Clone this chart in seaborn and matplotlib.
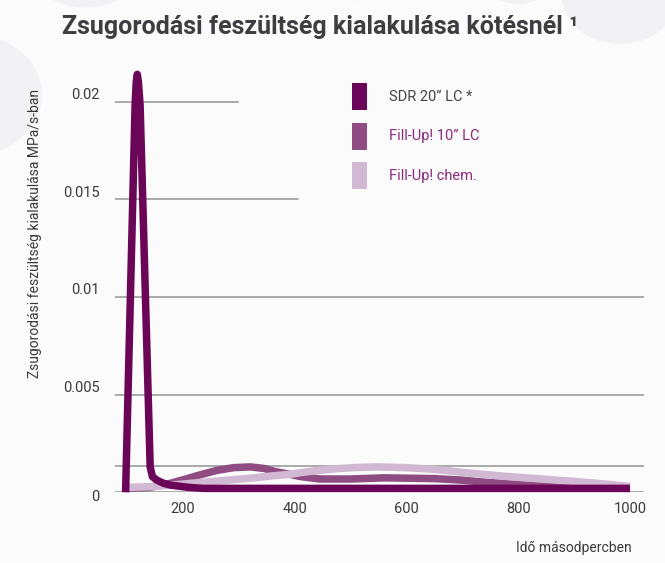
import matplotlib
matplotlib.use("Agg")
import matplotlib.pyplot as plt
from matplotlib.patches import Patch, Circle
from matplotlib.transforms import ScaledTranslation
import seaborn as sns
import pandas as pd

# Adatok (a diagramról leolvasva)
series_names = ["SDR 20\u201d LC *", "Fill-Up! 10\u201d LC", "Fill-Up! chem."]
series_colors = ["#6b0557", "#8e4c83", "#d2b9d3"]
label_colors = ["#444448", "#8a2a7c", "#8a2a7c"]

sdr_x = [97, 114, 116, 118, 120, 123, 141, 145, 153, 165, 177, 207, 236, 300, 1000]
sdr_y = [0, 0.0198, 0.0210, 0.0214, 0.0210, 0.0198, 0.0013, 0.0008, 0.00062, 0.00046,
         0.00037, 0.00026, 0.0002, 0.0002, 0.0002]

fill10_x = [100, 140, 177, 205, 230, 260, 290, 320, 345, 365, 391, 409, 445,
            500, 560, 650, 700, 731, 773, 833, 900, 1000]
fill10_y = [0.0002, 0.00025, 0.00046, 0.00068, 0.00089, 0.00112, 0.00126, 0.0013,
            0.00122, 0.00106, 0.00092, 0.00081, 0.00068, 0.00068, 0.00074, 0.0007,
            0.00062, 0.00054, 0.00045, 0.00033, 0.00024, 0.0002]

chem_x = [102, 150, 200, 230, 280, 320, 360, 391, 409, 445, 470, 510, 547, 600,
          647, 714, 775, 833, 890, 941, 1000]
chem_y = [0.00025, 0.0003, 0.00042, 0.0005, 0.00062, 0.00072, 0.00084, 0.00092,
          0.001, 0.00113, 0.0012, 0.00127, 0.0013, 0.00126, 0.00118, 0.00098,
          0.00082, 0.0007, 0.00058, 0.00046, 0.0003]

x_ticks = [200, 400, 600, 800, 1000]
y_ticks = [0, 0.005, 0.01, 0.015, 0.02]
y_tick_labels = ["0", "0.005", "0.01", "0.015", "0.02"]
ref_line = 0.00135

df = pd.concat([
    pd.DataFrame({"ido": sdr_x, "fesz": sdr_y, "minta": series_names[0]}),
    pd.DataFrame({"ido": fill10_x, "fesz": fill10_y, "minta": series_names[1]}),
    pd.DataFrame({"ido": chem_x, "fesz": chem_y, "minta": series_names[2]}),
], ignore_index=True)

sns.set_theme(style="white")
plt.rcParams["font.family"] = ["Roboto", "DejaVu Sans"]

fig = plt.figure(figsize=(6.65, 5.63), dpi=100, facecolor="#fbfbfc")

# háttér körök (díszítés)
for cx, cy, r in [(-30, 95, 72), (85, -45, 62), (193, -32, 38), (353, -25, 30),
                  (519, -28, 38), (620, -5, 58)]:
    fig.patches.append(Circle((cx / 665, 1 - cy / 563), r / 665,
                              transform=fig.transFigure, facecolor="#f2f2f4",
                              edgecolor="none", zorder=0))

ax = fig.add_axes([0.1729, 0.1256, 0.7955, 0.7701])
ax.set_facecolor("none")

palette = dict(zip(series_names, series_colors))
sns.lineplot(data=df, x="ido", y="fesz", hue="minta",
             hue_order=[series_names[1], series_names[2], series_names[0]],
             palette=palette, estimator=None, sort=False, linewidth=5.4,
             legend=False, ax=ax)
for ln in ax.lines:
    ln.set_solid_joinstyle("round")
    ln.set_solid_capstyle("butt")
    ln.set_clip_on(False)

ax.set_xlim(78, 1025)
ax.set_ylim(0, 0.0222)

# rácsvonalak
grid_ends = {0.02: 0.2325, 0.015: 0.346}
for yv in y_ticks + [ref_line]:
    ax.axhline(yv, xmin=0, xmax=grid_ends.get(yv, 1), color="#a3a3a6", lw=1.3, zorder=0)

for s in ax.spines.values():
    s.set_visible(False)

ax.set_xticks(x_ticks)
ax.set_xticklabels([str(v) for v in x_ticks])
ax.set_yticks(y_ticks)
ax.set_yticklabels(y_tick_labels)
ax.tick_params(axis="both", length=0, labelsize=10.5, labelcolor="#3a3a3d")
ax.tick_params(axis="y", pad=11)
ax.tick_params(axis="x", pad=7)
for lab in ax.get_yticklabels():
    dy = -3 if lab.get_text() == "0" else 8
    lab.set_transform(lab.get_transform() + ScaledTranslation(0, dy / 100, fig.dpi_scale_trans))
ax.set_xlabel("")
ax.set_ylabel("")

fig.text(62 / 665, 1 - 34 / 563, "Zsugorodási feszültség kialakulása kötésnél \u00b9",
         fontsize=18, fontweight="bold", color="#3d3d42", ha="left", va="baseline")
fig.text(35 / 665, 1 - 233 / 563, "Zsugorodási feszültség kialakulása MPa/s-ban",
         rotation=90, fontsize=10, color="#3a3a3d", ha="center", va="center")
fig.text(632 / 665, 1 - 548 / 563, "Idő másodpercben", fontsize=10,
         color="#3a3a3d", ha="right", va="center")

handles = [Patch(facecolor=c, edgecolor="none") for c in series_colors]
leg = fig.legend(handles, series_names, loc="upper left",
                 bbox_to_anchor=(352 / 665, 1 - 83 / 563), frameon=False,
                 borderpad=0, borderaxespad=0, fontsize=10.5, handlelength=1.03,
                 handleheight=2.47, handletextpad=1.5, labelspacing=0.86)
for txt, c in zip(leg.get_texts(), label_colors):
    txt.set_color(c)

plt.savefig("out.png", dpi=100, facecolor=fig.get_facecolor())
